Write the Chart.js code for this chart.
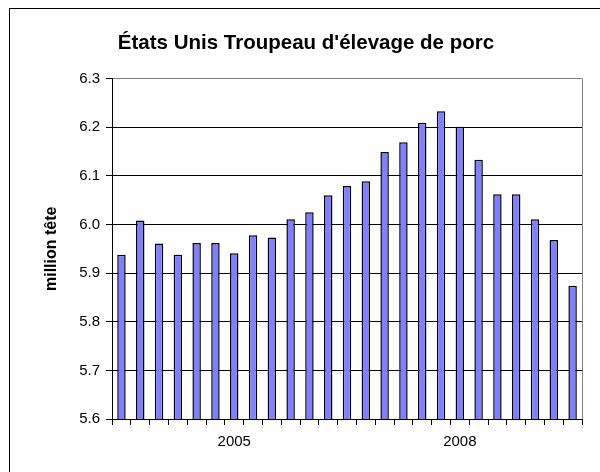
<!DOCTYPE html>
<html>
<head>
<meta charset="utf-8">
<script src="https://cdn.jsdelivr.net/npm/chart.js@4"></script>
<style>
  body { margin: 0; background: #fff; overflow: hidden; }
  #wrap { position: relative; width: 600px; height: 472px; }
  #frame { position: absolute; left: 9px; top: 8px; width: 620px; height: 500px;
           border-top: 1px solid #000; border-left: 1px solid #000; pointer-events: none; }
</style>
</head>
<body>
<div id="wrap">
  <canvas id="hog-chart" width="600" height="472"></canvas>
  <div id="frame"></div>
</div>
<script>
// quarterly inventory, only two year labels shown on the axis
const quarterLabels = ['', '', '', '', '', '', '2005', '', '', '', '', '', '',
                       '', '', '', '', '', '2008', '', '', '', '', '', ''];
const hogInventory = [5.938, 6.008, 5.961, 5.938, 5.962, 5.962, 5.941, 5.978, 5.973,
                      6.011, 6.025, 6.060, 6.079, 6.089, 6.149, 6.169, 6.209, 6.233,
                      6.201, 6.133, 6.062, 6.062, 6.011, 5.968, 5.874];
const yTickValues = [5.6, 5.7, 5.8, 5.9, 6.0, 6.1, 6.2, 6.3];

const fontFamily = "'Liberation Sans', Arial, sans-serif";
const gray = '#808080';

const ctx = document.getElementById('hog-chart');

new Chart(ctx, {
  type: 'bar',
  data: {
    labels: quarterLabels,
    datasets: [{
      label: 'million tête',
      data: hogInventory,
      backgroundColor: '#8080FF',
      borderColor: '#000000',
      borderWidth: 1.5,
      barPercentage: 0.45,
      categoryPercentage: 1.0
    }]
  },
  options: {
    responsive: false,
    animation: false,
    layout: {
      padding: { left: 30, right: 18, top: 8, bottom: 13 }
    },
    scales: {
      x: {
        offset: true,
        grid: {
          offset: true,
          drawOnChartArea: true,
          // only the closing line on the right edge is visible (gray)
          color: c => c.type === 'tick' ? 'rgba(0,0,0,0)' : gray,
          tickColor: '#000',
          tickLength: 6
        },
        border: { color: '#000', width: 1 },
        ticks: {
          autoSkip: false,
          maxRotation: 0,
          color: '#000',
          padding: 8,
          font: { family: fontFamily, size: 15 }
        }
      },
      y: {
        min: 5.6,
        max: 6.3,
        afterBuildTicks: scale => {
          scale.ticks = yTickValues.map(v => ({ value: v }));
        },
        grid: {
          color: c => c.index === yTickValues.length - 1 ? gray : '#000',
          tickColor: '#000',
          tickLength: 6
        },
        border: { color: '#000', width: 1 },
        ticks: {
          color: '#000',
          padding: 6,
          font: { family: fontFamily, size: 15 },
          callback: v => Number(v).toFixed(1)
        },
        title: {
          display: true,
          text: 'million tête',
          color: '#000',
          padding: { top: 12, bottom: 12 },
          font: { family: fontFamily, size: 16, weight: 'bold' }
        }
      }
    },
    plugins: {
      legend: { display: false },
      tooltip: { enabled: false },
      title: {
        display: true,
        text: "États Unis Troupeau d'élevage de porc",
        color: '#000',
        padding: { top: 23, bottom: 23 },
        font: { family: fontFamily, size: 20.5, weight: 'bold' }
      }
    }
  }
});
</script>
</body>
</html>
